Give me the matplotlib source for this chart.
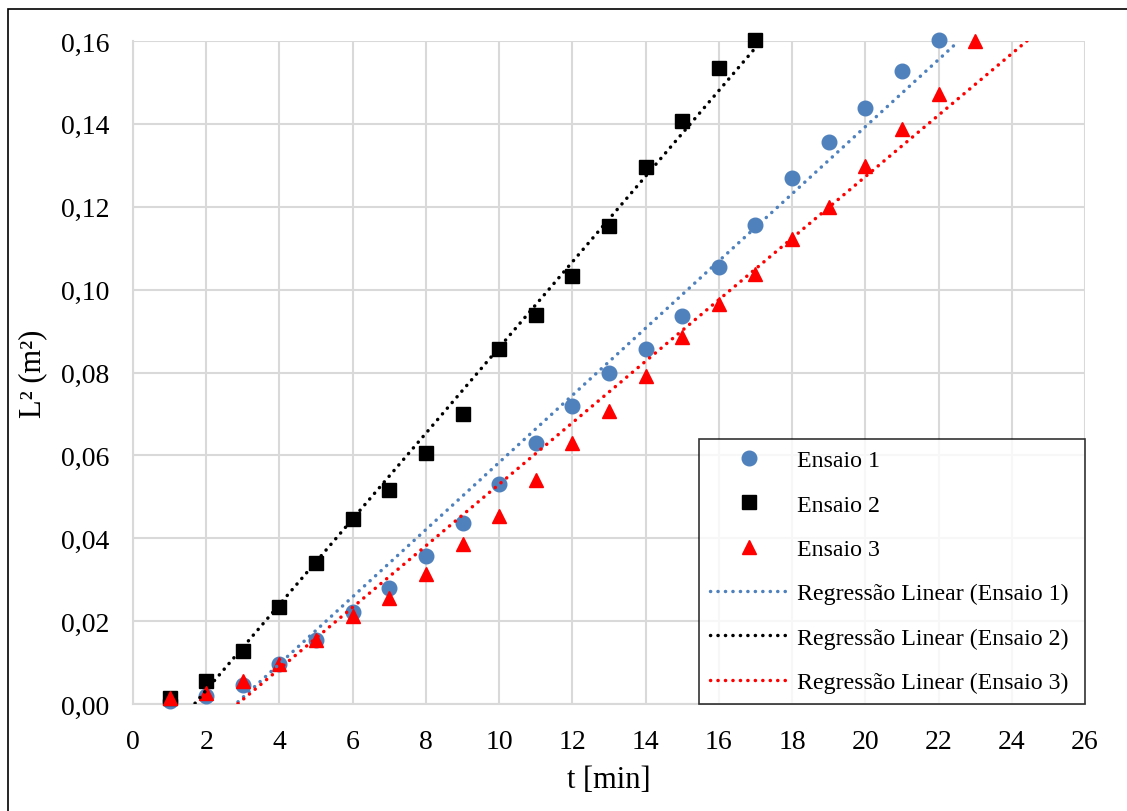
import numpy as np
import matplotlib
matplotlib.use("Agg")
import matplotlib.pyplot as plt
from matplotlib.patches import Rectangle
from matplotlib.ticker import FuncFormatter

plt.rcParams['font.family'] = ['Liberation Serif', 'DejaVu Serif']

# Data (t in min, L^2 in m^2)
t1 = list(range(1, 23))
L1 = [0.0008, 0.0020, 0.0046, 0.0096, 0.0155, 0.0221, 0.0280, 0.0358, 0.0437, 0.0530,
      0.0631, 0.0720, 0.0800, 0.0857, 0.0936, 0.1054, 0.1157, 0.1269, 0.1357, 0.1438,
      0.1527, 0.1602]
t2 = list(range(1, 18))
L2 = [0.0014, 0.0056, 0.0129, 0.0233, 0.0340, 0.0446, 0.0516, 0.0605, 0.0701, 0.0857,
      0.0939, 0.1034, 0.1154, 0.1297, 0.1408, 0.1535, 0.1602]
t3 = list(range(1, 24))
L3 = [0.0014, 0.0027, 0.0056, 0.0097, 0.0155, 0.0213, 0.0257, 0.0314, 0.0386, 0.0454,
      0.0540, 0.0631, 0.0706, 0.0792, 0.0886, 0.0965, 0.1038, 0.1122, 0.1199, 0.1299,
      0.1387, 0.1472, 0.1601]

labels = ['Ensaio 1', 'Ensaio 2', 'Ensaio 3']
reg_labels = ['Regressão Linear (Ensaio 1)', 'Regressão Linear (Ensaio 2)',
              'Regressão Linear (Ensaio 3)']
colors = ['#4F81BD', '#000000', '#FF0000']
markers = ['o', 's', '^']
xticks = list(range(0, 27, 2))
yticks = [0.0, 0.02, 0.04, 0.06, 0.08, 0.10, 0.12, 0.14, 0.16]

fig = plt.figure(figsize=(11.27, 8.12), dpi=100)
ax = fig.add_axes([133/1127, 1-705/812, (1085-133)/1127, (705-42)/812])

series = [(t1, L1), (t2, L2), (t3, L3)]
handles_m = []
for (t, L), lab, c, m in zip(series, labels, colors, markers):
    h, = ax.plot(t, L, linestyle='none', marker=m, color=c, markersize=10.5,
                 label=lab, zorder=3, clip_on=False)
    handles_m.append(h)

handles_l = []
xx = np.linspace(0, 26, 400)
for (t, L), lab, c in zip(series, reg_labels, colors):
    a, b = np.polyfit(t, L, 1)
    yy = a * xx + b
    mask = (yy >= 0) & (yy <= 0.1602)
    h, = ax.plot(xx[mask], yy[mask], color=c, linewidth=2.5, linestyle=(0, (0.05, 2.1)),
                 dash_capstyle='round', label=lab, zorder=4)
    handles_l.append(h)

ax.set_xlim(0, 26)
ax.set_ylim(0, 0.16)
ax.set_xticks(xticks)
ax.set_yticks(yticks)
ax.yaxis.set_major_formatter(FuncFormatter(lambda v, p: f"{v:.2f}".replace('.', ',')))
ax.tick_params(axis='both', length=0, labelsize=20)
ax.tick_params(axis='x', pad=18)
ax.tick_params(axis='y', pad=17)
ax.grid(True, color='#D9D9D9', linewidth=1.5, zorder=0)
ax.set_axisbelow(True)
for s in ['top', 'right']:
    ax.spines[s].set_visible(False)
for s in ['left', 'bottom']:
    ax.spines[s].set_color('#D9D9D9')
    ax.spines[s].set_linewidth(1.5)

ax.set_xlabel('t [min]', fontsize=22, labelpad=8)
ax.set_ylabel('L² (m²)', fontsize=22, labelpad=10)

handles = handles_m + handles_l
leg_labels = [h.get_label() + ' ' for h in handles]
leg = ax.legend(handles=handles, labels=leg_labels, loc='lower right', borderaxespad=0,
                fontsize=17.2, frameon=True, fancybox=False, edgecolor='black',
                handlelength=3.3, handletextpad=0.35, labelspacing=0.95,
                borderpad=0.45, markerscale=1.0)
leg.get_frame().set_linewidth(1.2)
leg.set_zorder(10)

fig.patches.append(Rectangle((8/1127, -0.1), 1.2, (812-10)/812 + 0.1,
                             transform=fig.transFigure, fill=False,
                             edgecolor='black', linewidth=1.2))

fig.savefig('out.png', dpi=100)
